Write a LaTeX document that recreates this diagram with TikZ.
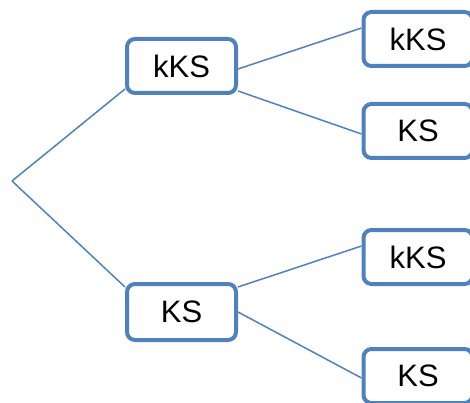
\documentclass[tikz,border=0pt]{standalone}
\usepackage{fontspec}
\setmainfont{Liberation Sans}
\usepackage{tikz}
\definecolor{boxblue}{RGB}{79,129,189}

\begin{document}
\begin{tikzpicture}[x=1pt, y=-1pt,
    box/.style={draw=boxblue, line width=4pt, rounded corners=8pt, fill=white,
      minimum width=109pt, minimum height=54pt, font=\fontsize{31}{33}\selectfont},
    link/.style={draw=boxblue, line width=1.5pt}]
  \useasboundingbox (0,0) rectangle (470,403);
  \coordinate (root) at (12,181);
  \node[box] (mk) at (181.5,66) {kKS};
  \node[box, minimum height=56pt] (ms) at (181.5,312) {KS};
  \node[box] (rkk) at (418,39) {kKS};
  \node[box] (rks) at (418,131) {KS};
  \node[box] (rsk) at (418,257) {kKS};
  \node[box] (rss) at (418,376) {KS};
  \draw[link] (root) -- ([yshift=-23pt]mk.west);
  \draw[link] (root) -- ([yshift=25pt]ms.west);
  \draw[link] ([yshift=-3pt]mk.east) -- ([yshift=11pt]rkk.west);
  \draw[link] ([yshift=-25pt]mk.east) -- ([yshift=-3pt]rks.west);
  \draw[link] ([yshift=25pt]ms.east) -- ([yshift=11pt]rsk.west);
  \draw[link] (ms.east) -- ([yshift=-2pt]rss.west);
\end{tikzpicture}
\end{document}
